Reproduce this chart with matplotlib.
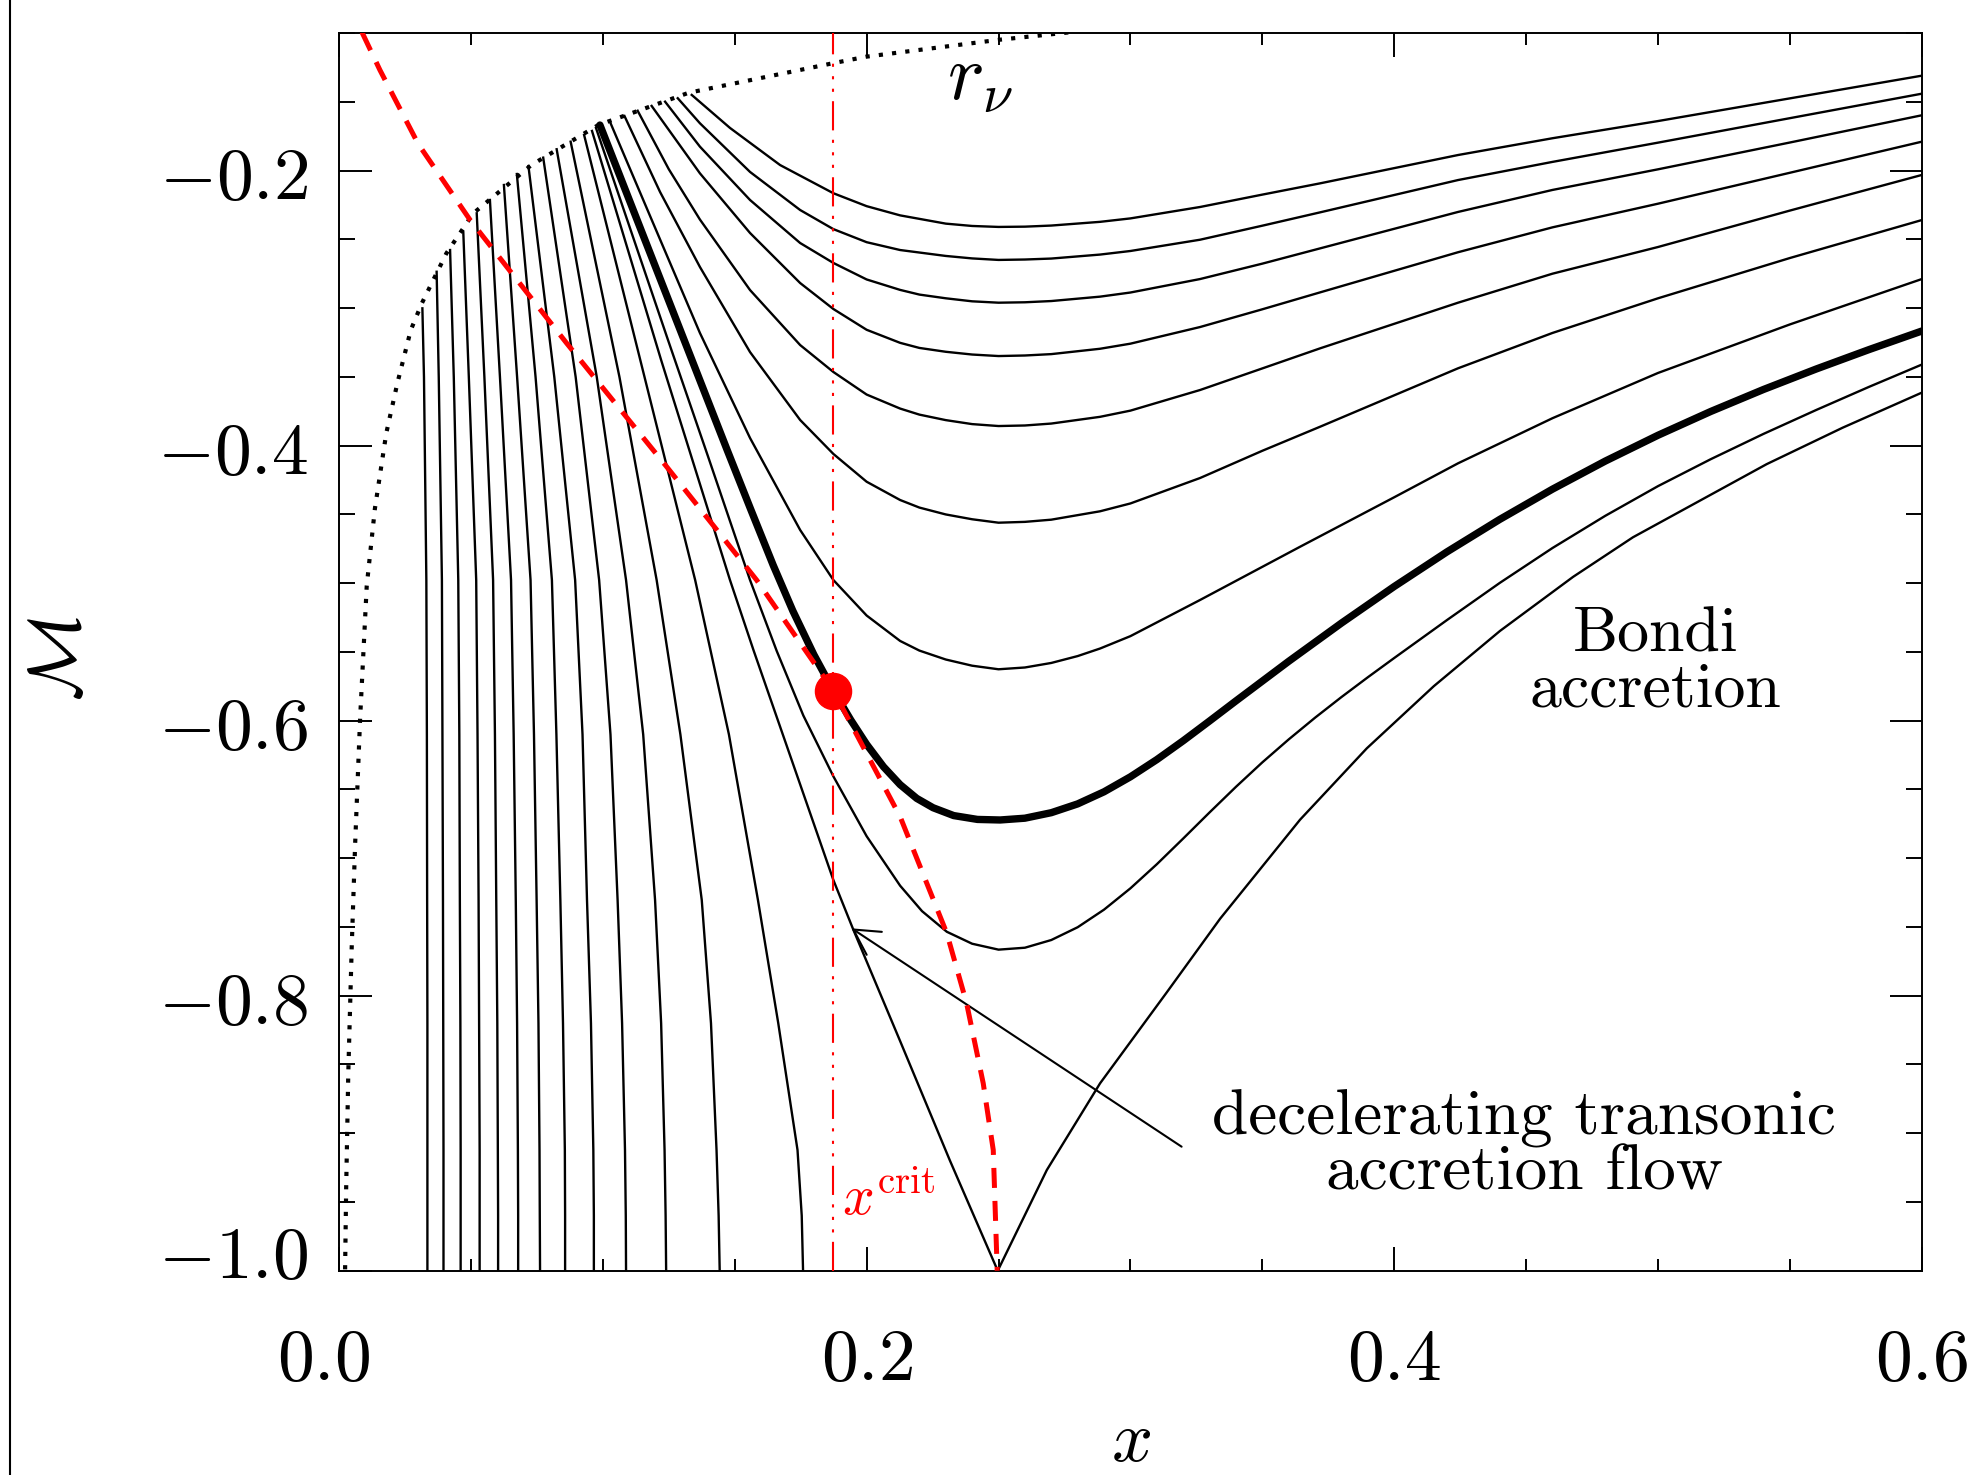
import matplotlib
matplotlib.use("Agg")
import matplotlib.pyplot as plt
from matplotlib.lines import Line2D
from matplotlib.ticker import MultipleLocator
from matplotlib.transforms import ScaledTranslation

plt.rcParams['mathtext.fontset'] = 'cm'
plt.rcParams['axes.unicode_minus'] = False

# r_nu boundary (dotted)
rnu_x = [0.0023, 0.0027, 0.0035, 0.0048, 0.0061, 0.0080, 0.0105, 0.0136, 0.0179, 0.0221,
         0.0272, 0.0314, 0.0407, 0.0509, 0.0729, 0.0983, 0.1326, 0.1871, 0.1998, 0.2497, 0.2773]
rnu_m = [-0.999, -0.9405, -0.857, -0.7652, -0.690, -0.598, -0.502, -0.4457, -0.391, -0.3546,
         -0.3159, -0.2964, -0.2601, -0.231, -0.1959, -0.1668, -0.1433, -0.1219, -0.1171, -0.1049, -0.0993]

# locus of sonic points (red dashed)
sonic_x = [0.0087, 0.0155, 0.0300, 0.0497, 0.0863, 0.1242, 0.1583, 0.1874, 0.2127, 0.2304, 0.2379,
           0.2442, 0.2480, 0.2495]
sonic_m = [-0.0993, -0.1268, -0.1805, -0.2359, -0.3255, -0.4153, -0.4977, -0.5782, -0.6698, -0.7546, -0.8055,
           -0.8637, -0.9122, -1.0]

# fan of solutions running into M = -1: start on r_nu, then x read at fixed M levels
fan_start_x = [0.0316, 0.0370, 0.0421, 0.0471, 0.0522, 0.0572, 0.0625, 0.0674, 0.0718, 0.0774, 0.0825, 0.0878, 0.0929]
fan_start_m = [-0.3001, -0.2735, -0.2577, -0.2444, -0.2310, -0.2213, -0.2104, -0.2024, -0.1966, -0.1905, -0.1844, -0.1789, -0.1740]
fan_levels = [-0.35, -0.4977, -0.61, -0.7304, -0.82, -0.9122, -0.96, -1.0]
fan_x = [
    [0.0322, 0.0331, 0.0333, 0.0334, 0.0335, 0.0335, 0.0335, 0.0335],
    [0.0378, 0.0390, 0.0392, 0.0394, 0.0395, 0.0396, 0.0396, 0.0396],
    [0.0435, 0.0452, 0.0456, 0.0458, 0.0460, 0.0461, 0.0461, 0.0461],
    [0.0492, 0.0520, 0.0525, 0.0529, 0.0531, 0.0533, 0.0533, 0.0533],
    [0.0551, 0.0584, 0.0591, 0.0596, 0.0600, 0.0602, 0.0603, 0.0603],
    [0.0610, 0.0652, 0.0662, 0.0670, 0.0675, 0.0678, 0.0679, 0.0679],
    [0.0675, 0.0726, 0.0739, 0.0749, 0.0756, 0.0760, 0.0761, 0.0762],
    [0.0745, 0.0807, 0.0824, 0.0839, 0.0849, 0.0856, 0.0857, 0.0857],
    [0.0816, 0.0895, 0.0923, 0.0940, 0.0955, 0.0964, 0.0966, 0.0966],
    [0.0897, 0.0986, 0.1029, 0.1056, 0.1073, 0.1084, 0.1087, 0.1088],
    [0.0977, 0.1088, 0.1153, 0.1198, 0.1221, 0.1234, 0.1238, 0.1240],
    [0.1063, 0.1204, 0.1294, 0.1375, 0.1410, 0.1431, 0.1439, 0.1443],
    [0.1158, 0.1350, 0.1478, 0.1588, 0.1665, 0.1738, 0.1754, 0.1759],
]

# U-shaped subsonic solutions
u1_x = [0.1337, 0.1482, 0.1672, 0.1874, 0.2000, 0.2127, 0.2300, 0.2400, 0.2500, 0.2600, 0.2700, 0.2885, 0.3000,
        0.3264, 0.3500, 0.3719, 0.4242, 0.4600, 0.5000, 0.5500, 0.6000]
u1_m = [-0.1449, -0.1689, -0.1959, -0.2164, -0.2258, -0.2325, -0.2385, -0.2402, -0.2409, -0.2407, -0.2399, -0.2372,
        -0.2347, -0.2264, -0.2174, -0.2092, -0.1886, -0.1764, -0.1639, -0.1474, -0.1309]
u2_x = [0.1284, 0.1368, 0.1558, 0.1748, 0.1874, 0.2000, 0.2127, 0.2300, 0.2400, 0.2500, 0.2600, 0.2700, 0.2885,
        0.3000, 0.3264, 0.3500, 0.3719, 0.4242, 0.4600, 0.5000, 0.5500, 0.6000]
u2_m = [-0.1473, -0.1655, -0.2009, -0.2286, -0.2425, -0.2520, -0.2577, -0.2620, -0.2638, -0.2649, -0.2646, -0.2639,
        -0.2610, -0.2584, -0.2502, -0.2400, -0.2303, -0.2068, -0.1936, -0.1796, -0.1618, -0.1440]
u3_x = [0.1236, 0.1368, 0.1558, 0.1748, 0.1874, 0.2000, 0.2127, 0.2200, 0.2300, 0.2400, 0.2500, 0.2600, 0.2700,
        0.2885, 0.3000, 0.3264, 0.3500, 0.3719, 0.4242, 0.4600, 0.5000, 0.5500, 0.6000]
u3_m = [-0.1498, -0.1825, -0.2213, -0.2526, -0.2671, -0.2791, -0.2867, -0.2901, -0.2928, -0.2950, -0.2960, -0.2957,
        -0.2948, -0.2916, -0.2886, -0.2788, -0.2676, -0.2565, -0.2300, -0.2140, -0.1990, -0.1795, -0.1597]
u4_x = [0.1185, 0.1368, 0.1558, 0.1748, 0.1874, 0.2000, 0.2127, 0.2200, 0.2300, 0.2400, 0.2500, 0.2600, 0.2700,
        0.2885, 0.3000, 0.3264, 0.3500, 0.3719, 0.4242, 0.4600, 0.5000, 0.5500, 0.6000]
u4_m = [-0.1529, -0.2019, -0.2453, -0.2817, -0.3006, -0.3157, -0.3252, -0.3289, -0.3317, -0.3337, -0.3348, -0.3344,
        -0.3334, -0.3295, -0.3258, -0.3137, -0.3008, -0.2885, -0.2593, -0.2412, -0.2240, -0.2015, -0.1789]
u5_x = [0.1132, 0.1250, 0.1368, 0.1558, 0.1748, 0.1874, 0.2000, 0.2127, 0.2200, 0.2300, 0.2400, 0.2500, 0.2600,
        0.2700, 0.2885, 0.3000, 0.3264, 0.3500, 0.3719, 0.4242, 0.4600, 0.5000, 0.5500, 0.6000]
u5_m = [-0.1564, -0.1989, -0.2355, -0.2868, -0.3268, -0.3464, -0.3628, -0.3730, -0.3774, -0.3814, -0.3843, -0.3857,
        -0.3853, -0.3839, -0.3790, -0.3745, -0.3595, -0.3438, -0.3292, -0.2960, -0.2749, -0.2555, -0.2290, -0.2031]
u6_x = [0.1082, 0.1217, 0.1368, 0.1558, 0.1748, 0.1874, 0.2000, 0.2127, 0.2200, 0.2300, 0.2400, 0.2500, 0.2600,
        0.2700, 0.2885, 0.3000, 0.3264, 0.3500, 0.3719, 0.4242, 0.4600, 0.5000, 0.5500, 0.6000]
u6_m = [-0.1602, -0.2155, -0.2700, -0.3319, -0.3813, -0.4060, -0.4262, -0.4395, -0.4450, -0.4500, -0.4535, -0.4560,
        -0.4554, -0.4538, -0.4477, -0.4420, -0.4235, -0.4037, -0.3862, -0.3437, -0.3180, -0.2928, -0.2635, -0.2359]
u7_x = [0.1027, 0.1179, 0.1368, 0.1558, 0.1748, 0.1874, 0.2000, 0.2127, 0.2200, 0.2300, 0.2400, 0.2500, 0.2600,
        0.2700, 0.2800, 0.2885, 0.3000, 0.3264, 0.3643, 0.4000, 0.4242, 0.4600, 0.5000, 0.5500, 0.6000]
u7_m = [-0.1644, -0.2329, -0.3180, -0.3944, -0.4613, -0.4977, -0.5235, -0.5420, -0.5490, -0.5555, -0.5600, -0.5626,
        -0.5613, -0.5580, -0.5530, -0.5475, -0.5385, -0.5122, -0.4735, -0.4375, -0.4128, -0.3800, -0.3471, -0.3118, -0.2788]

# transonic (critical) solution, thick
trans_x = [0.0989, 0.1096, 0.1293, 0.1471, 0.1560, 0.1646, 0.1720, 0.1800, 0.1874, 0.1940, 0.2000, 0.2064, 0.2127,
           0.2190, 0.2252, 0.2330, 0.2420, 0.2506, 0.26, 0.27, 0.28, 0.29, 0.30, 0.31, 0.32, 0.33, 0.34, 0.36, 0.38,
           0.40, 0.42, 0.44, 0.46, 0.48, 0.50, 0.52, 0.54, 0.56, 0.58, 0.60]
trans_m = [-0.1668, -0.2192, -0.3157, -0.4030, -0.4460, -0.4870, -0.5200, -0.5520, -0.5782, -0.5995, -0.6172, -0.6335,
           -0.6465, -0.6565, -0.6633, -0.6690, -0.6718, -0.6722, -0.6709, -0.6669, -0.6605, -0.6517, -0.6408, -0.6283,
           -0.6146, -0.6002, -0.5856, -0.5568, -0.5290, -0.5024, -0.4772, -0.4536, -0.4316, -0.4112, -0.3924, -0.3751,
           -0.3591, -0.3442, -0.3301, -0.3166]

# solution just below the critical one
below_x = [0.0974, 0.1247, 0.1400, 0.1558, 0.1659, 0.1760, 0.1874, 0.2000, 0.2127, 0.2210, 0.2304, 0.2400, 0.2500,
           0.26, 0.27, 0.28, 0.29, 0.30, 0.31, 0.32, 0.33, 0.34, 0.35, 0.36, 0.37, 0.38, 0.39, 0.40, 0.42, 0.44,
           0.46, 0.48, 0.50, 0.52, 0.54, 0.56, 0.58, 0.60]
below_m = [-0.1689, -0.3231, -0.4085, -0.4977, -0.5492, -0.5962, -0.6405, -0.6840, -0.7200, -0.7385, -0.7535, -0.7622,
           -0.7665, -0.7651, -0.7595, -0.7502, -0.7374, -0.7219, -0.7044, -0.6857, -0.6667, -0.6481, -0.6303, -0.6136,
           -0.5978, -0.5828, -0.5684, -0.5544, -0.5268, -0.4998, -0.4744, -0.4510, -0.4294, -0.4098, -0.3914, -0.3740,
           -0.3572, -0.3410]

# decelerating transonic flow touching M = -1 at x = 0.25
vee_x = [0.0959, 0.1221, 0.1482, 0.1571, 0.1874, 0.1950, 0.2127, 0.2316, 0.2497, 0.2683, 0.2885, 0.3138, 0.3340,
         0.3643, 0.3896, 0.4150, 0.4401, 0.4678, 0.4905, 0.5412, 0.5700, 0.6000]
vee_m = [-0.1711, -0.3377, -0.4977, -0.5486, -0.7159, -0.7522, -0.8330, -0.9200, -1.0, -0.9268, -0.8637, -0.7975,
         -0.7440, -0.6720, -0.6201, -0.5749, -0.5347, -0.4954, -0.4666, -0.4134, -0.3869, -0.3614]

xcrit = 0.1874
mcrit = -0.5782
arrow_tip = (0.1943, -0.751)
arrow_tail = (0.3194, -0.9098)

x_ticks = [0.0, 0.2, 0.4, 0.6]
x_tick_labels = ['0.0', '0.2', '0.4', '0.6']
y_ticks = [-1.0, -0.8, -0.6, -0.4, -0.2]
y_tick_labels = ['-1.0', '-0.8', '-0.6', '-0.4', '-0.2']

fig = plt.figure(figsize=(19.78, 14.75), dpi=100)
ax = fig.add_axes([0.1714, 0.1385, 0.8002, 0.8390])

thin = 1.7
for i in range(len(fan_start_x)):
    ax.plot([fan_start_x[i]] + fan_x[i], [fan_start_m[i]] + fan_levels,
            color='k', lw=thin, solid_joinstyle='round')

for xs, ms in [(u1_x, u1_m), (u2_x, u2_m), (u3_x, u3_m), (u4_x, u4_m),
               (u5_x, u5_m), (u6_x, u6_m), (u7_x, u7_m), (below_x, below_m), (vee_x, vee_m)]:
    ax.plot(xs, ms, color='k', lw=thin, solid_joinstyle='round')

ax.plot(trans_x, trans_m, color='k', lw=5.3, solid_joinstyle='round', solid_capstyle='round')

ax.plot(rnu_x, rnu_m, color='k', lw=3.0, dashes=(1, 2.2))
ax.plot(sonic_x, sonic_m, color='red', lw=3.6, dashes=(4, 2.6), zorder=4)
ax.axvline(xcrit, color='red', lw=1.5, dashes=(14, 4.5, 1.5, 4.5, 1.5, 4.5, 1.5, 4.5), zorder=4)
ax.plot([xcrit], [mcrit], 'o', color='red', ms=26, zorder=6)

ax.annotate('', xy=arrow_tip, xytext=arrow_tail,
            arrowprops=dict(arrowstyle='->,head_length=0.4,head_width=0.22', lw=1.5, color='k',
                            shrinkA=0, shrinkB=0, mutation_scale=45))

# multi-line labels: y is the baseline of the last line
ax.text(0.2305, -0.1486, r'$r_\nu$', fontsize=56, ha='left', va='baseline')
ax.text(0.499, -0.5898, 'Bondi\naccretion', fontfamily='cmr10', fontsize=46, ha='center', va='baseline',
        multialignment='center', linespacing=0.93)
ax.text(0.4492, -0.9410, 'decelerating transonic\naccretion flow', fontfamily='cmr10', fontsize=47,
        ha='center', va='baseline', multialignment='center', linespacing=0.92)
ax.text(0.1907, -0.9595, r'$x^{\rm crit}$', color='red', fontsize=40, ha='left', va='baseline')

fig.text(59 / 1978, 1 - 659 / 1475, r'$\mathcal{M}$', rotation=90, fontsize=53, ha='center', va='center')
fig.text(1131 / 1978, 1 - 1442 / 1475, r'$x$', fontsize=52, ha='center', va='center')

ax.set_xlim(0.0, 0.6)
ax.set_ylim(-1.0, -0.1)
ax.set_xticks(x_ticks, labels=['$' + s + '$' for s in x_tick_labels])
ax.set_yticks(y_ticks, labels=['$' + s + '$' for s in y_tick_labels])
ax.xaxis.set_minor_locator(MultipleLocator(0.05))
ax.yaxis.set_minor_locator(MultipleLocator(0.05))

ax.tick_params(axis='x', which='major', direction='in', length=17.5, width=1.4, top=True, labelsize=53, pad=38)
ax.tick_params(axis='x', which='minor', direction='in', length=8.7, width=1.4, top=True)
ax.tick_params(axis='y', which='major', direction='in', length=23.4, width=1.4, right=True, labelsize=53, pad=22)
ax.tick_params(axis='y', which='minor', direction='in', length=11.7, width=1.4, right=True)
for sp in ax.spines.values():
    sp.set_linewidth(1.4)

# IDL-like nudges of the corner labels
xt = ax.xaxis.get_major_ticks()
xt[0].label1.set_transform(xt[0].label1.get_transform() + ScaledTranslation(-0.15, 0, fig.dpi_scale_trans))
yt = ax.yaxis.get_major_ticks()
yt[0].label1.set_transform(yt[0].label1.get_transform() + ScaledTranslation(0, 0.21, fig.dpi_scale_trans))

fig.add_artist(Line2D([0.0051, 0.0051], [0, 1], transform=fig.transFigure, color='k', lw=1.5))

fig.savefig('out.png', dpi=100)
